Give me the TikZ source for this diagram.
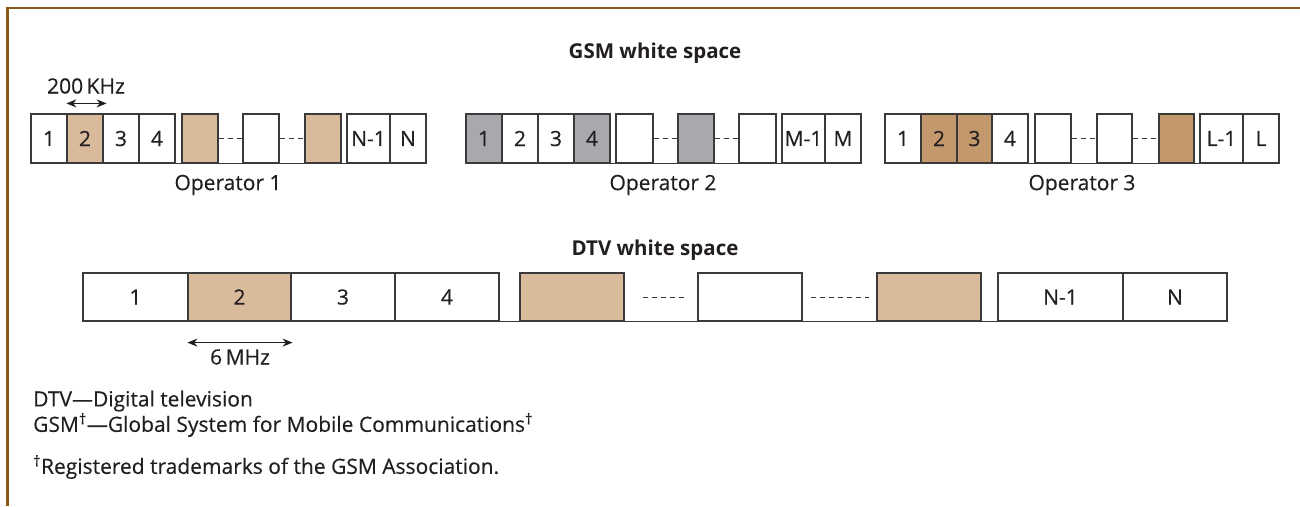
\documentclass[tikz,border=0pt]{standalone}
\usepackage{fontspec}
\setmainfont{Open Sans}
\newfontfamily\textface{Open Sans}[FakeBold=0.35]
\usetikzlibrary{arrows.meta}

\definecolor{frame}{RGB}{139,90,22}
\definecolor{ink}{RGB}{35,31,32}
\definecolor{edge}{RGB}{58,58,58}
\definecolor{tanlt}{RGB}{217,187,156}
\definecolor{tandk}{RGB}{194,152,108}
\definecolor{greyc}{RGB}{167,169,172}

\tikzset{
  chan/.style={draw=edge, line width=1.2pt, inner sep=0pt, text=ink,
               font=\textface\fontsize{21}{24}\selectfont},
  lbl/.style={text=ink, font=\textface\fontsize{21}{24}\selectfont, inner sep=0pt},
  ttl/.style={text=ink, font=\bfseries\fontsize{20.5}{24}\selectfont, inner sep=0pt},
  gap/.style={draw=edge, line width=1pt, dash pattern=on 5pt off 4pt},
  base/.style={draw=edge, line width=1.2pt},
  span/.style={draw=ink, line width=1.1pt,
               {Stealth[length=10pt,width=8pt]}-{Stealth[length=10pt,width=8pt]}},
}

% one row of channel boxes: name prefix, centre line, box height, list n/left/right/fill/text
\newcommand\chanrow[4]{%
  \foreach \n/\a/\b/\f/\t in {#4} {
    \pgfmathsetmacro\cwid{\b-\a}
    \pgfmathsetmacro\cmid{(\a+\b)/2}
    \node[chan, fill=\f, minimum width=\cwid pt, minimum height=#3pt] (#1\n) at (\cmid,#2) {\t};
  }%
}

\begin{document}
\begin{tikzpicture}[x=1pt,y=-1pt]
\useasboundingbox (0,0) rectangle (1300,506);
\fill[white] (0,0) rectangle (1300,506);
\draw[frame, line width=2.4pt] (7.5,506) -- (7.5,8) -- (1300,8);

% GSM channel rows
\chanrow{oa}{138.5}{49}{1/31/67/white/1, 2/67/103/tanlt/2, 3/103/139/white/3, 4/139/175/white/4,
  5/182/218/tanlt/, 6/243/279/white/, 7/305/341/tanlt/, 8/347/390/white/N-1, 9/390/426/white/N}
\chanrow{ob}{138.5}{49}{1/466/502/greyc/1, 2/502/538/white/2, 3/538/574/white/3, 4/574/610/greyc/4,
  5/616/653/white/, 6/678/714/greyc/, 7/739/776/white/, 8/782/825/white/M-1, 9/825/861/white/M}
\chanrow{oc}{138.5}{49}{1/885/921/white/1, 2/921/957/tandk/2, 3/957/992/tandk/3, 4/992/1028/white/4,
  5/1035/1071/white/, 6/1097/1132/white/, 7/1159/1194/tandk/, 8/1200/1243/white/L-1, 9/1243/1279/white/L}

\foreach \r in {oa,ob,oc} {
  \draw[base] (\r1.south west) -- (\r9.south east);
  \draw[gap] (\r5.east) -- (\r6.west);
  \draw[gap] (\r6.east) -- (\r7.west);
}

% DTV channel row
\chanrow{d}{297}{48}{1/83/188/white/1, 2/188/291/tanlt/2, 3/291/395/white/3, 4/395/499/white/4,
  5/520/624/tanlt/, 6/698/802/white/, 7/877/981/tanlt/, 8/998/1123/white/N-1, 9/1123/1227/white/N}
\draw[base] (d1.south west) -- (d9.south east);
\draw[gap] ([xshift=18pt]d5.east) -- ([xshift=-11pt]d6.west);
\draw[gap] ([xshift=8pt]d6.east) -- ([xshift=-7pt]d7.west);

% titles and labels
\node[ttl] (gsmt) at (655,53) {GSM white space};
\node[ttl] (dtvt) at (655,250) {DTV white space};
\node[lbl] (opa) at (228,185) {Operator 1};
\node[lbl] (opb) at (663,185) {Operator 2};
\node[lbl] (opc) at (1082,185) {Operator 3};

% channel widths
\node[lbl] (khz) at (86,86) {200\,KHz};
\draw[span] ([yshift=10pt]oa2.north west) -- ([xshift=3pt,yshift=10pt]oa2.north east);
\node[lbl] (mhz) at (240,357) {6\,MHz};
\draw[span] ([yshift=-21pt]d2.south west) -- ([xshift=1pt,yshift=-21pt]d2.south east);

% legend
\node[lbl, anchor=west] (lga) at (33,401) {DTV—Digital television};
\node[lbl, anchor=west] (lgb) at (33,425) {GSM\textsuperscript{†}—Global System for Mobile Communications\textsuperscript{†}};
\node[lbl, anchor=west] (lgc) at (33,467) {\textsuperscript{†}Registered trademarks of the GSM Association.};
\end{tikzpicture}
\end{document}
